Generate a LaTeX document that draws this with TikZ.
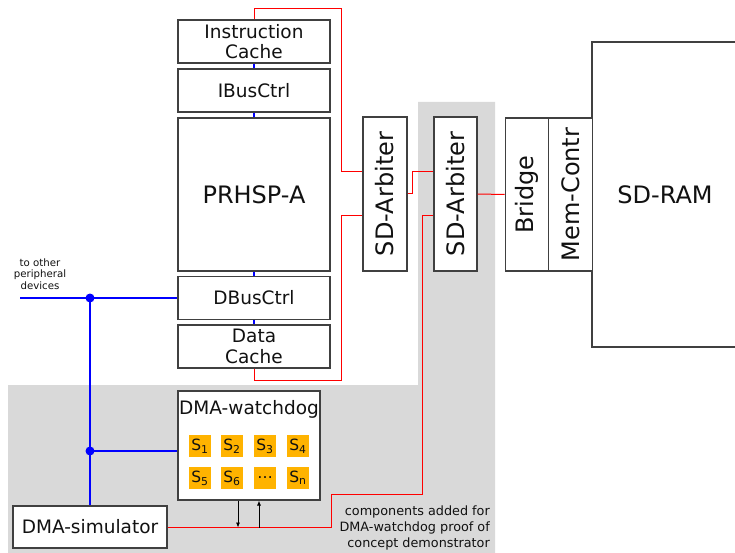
\documentclass[tikz,border=0pt]{standalone}
\usepackage{fontspec}
\usepackage{graphicx}
\setmainfont{DejaVu Sans}
\usetikzlibrary{arrows.meta}
\definecolor{bgray}{HTML}{D9D9D9}
\definecolor{cellor}{HTML}{FFB300}
\definecolor{boxln}{HTML}{404040}
\definecolor{txt}{HTML}{111111}
\tikzset{
  blk/.style={draw=boxln, line width=1.1pt, fill=white, inner sep=0pt, text=txt},
  midtxt/.style={font=\fontsize{18.5}{20.5}\selectfont, align=center},
  bigtxt/.style={font=\fontsize{24}{27}\selectfont, align=center},
  rline/.style={draw=red, line width=1pt},
  bline/.style={draw=blue, line width=1.25pt},
  aline/.style={draw=black, line width=0.8pt},
  cell/.style={fill=cellor, minimum width=22pt, minimum height=22pt, inner sep=0pt, text=txt, font=\fontsize{15.5}{18}\selectfont},
  jdot/.style={circle, fill=blue, inner sep=0pt, minimum size=9pt},
}
\begin{document}
\begin{tikzpicture}[x=1pt,y=-1pt]
\useasboundingbox (0,0) rectangle (735,553);
% gray background
\fill[bgray] (418,102) -- (495,102) -- (495,553) -- (8,553) -- (8,385) -- (418,385) -- cycle;

% CPU column
\node[blk, midtxt, minimum width=152pt, minimum height=43pt] (ic) at (254,41.5) {Instruction\\Cache};
\node[blk, midtxt, minimum width=152pt, minimum height=43pt] (ibus) at (254,90.5) {IBusCtrl};
\node[blk, bigtxt, minimum width=152pt, minimum height=153pt] (cpu) at (254,194.5) {PRHSP-A};
\node[blk, midtxt, minimum width=152pt, minimum height=43pt] (dbus) at (254,298) {DBusCtrl};
\node[blk, midtxt, minimum width=152pt, minimum height=43pt] (dc) at (254,346.5) {Data\\Cache};

% arbiters, bridge, memory
\node[blk, bigtxt, minimum width=44pt, minimum height=154pt] (arb1) at (385,194) {\rotatebox{90}{SD-Arbiter}};
\node[blk, bigtxt, minimum width=43pt, minimum height=154pt] (arb2) at (455.5,194) {\rotatebox{90}{SD-Arbiter}};
\node[blk, bigtxt, minimum width=146pt, minimum height=305pt] (sdram) at (665,194.5) {SD-RAM};
\node[blk, bigtxt, minimum width=43.5pt, minimum height=153pt] (bridge) at (527,194.5) {\rotatebox{90}{Bridge}};
\node[blk, bigtxt, minimum width=43.5pt, minimum height=153pt] (memc) at (570.5,194.5) {\rotatebox{90}{Mem-Contr}};

% DMA watchdog
\node[blk, minimum width=142pt, minimum height=109pt] (wd) at (249,445.5) {};
\node[midtxt, text=txt, inner sep=0pt] (wdt) at (249,409) {DMA-watchdog};
\node[cell] (s1) at (200,446) {S\textsubscript{1}};
\node[cell] (s2) at (232,446) {S\textsubscript{2}};
\node[cell] (s3) at (265,446) {S\textsubscript{3}};
\node[cell] (s4) at (298,446) {S\textsubscript{4}};
\node[cell] (s5) at (200,478) {S\textsubscript{5}};
\node[cell] (s6) at (232,478) {S\textsubscript{6}};
\node[cell] (s7) at (265,478) {…};
\node[cell] (s8) at (298,478) {S\textsubscript{n}};

% DMA simulator
\node[blk, midtxt, minimum width=154pt, minimum height=42pt] (sim) at (90,527) {DMA-simulator};

% texts
\node[font=\fontsize{10.2}{11.3}\selectfont, align=center, text=txt, inner sep=0pt] (ptxt) at (40,274) {to other\\peripheral\\devices};
\node[font=\fontsize{12.8}{16}\selectfont, align=right, text=txt, inner sep=0pt, anchor=east] (cap) at (490,528) {components added for\\DMA-watchdog proof of\\concept demonstrator};

% red connections
\draw[rline] (ic.north) -- ++(0,-11) -| ([xshift=-21pt,yshift=22pt]arb1.west) -- ([yshift=22pt]arb1.west);
\draw[rline] (dc.south) -- ++(0,12) -| ([xshift=-21pt,yshift=-22pt]arb1.west) -- ([yshift=-22pt]arb1.west);
\draw[rline] (arb1.east) -- ++(4.5,0) |- ([yshift=22pt]arb2.west);
\draw[rline] (arb2.east) -- (bridge.west);
\draw[rline] (sim.east) -- ++(164,0) -- ++(0,-33) -| ([xshift=-11pt,yshift=-22pt]arb2.west) -- ([yshift=-22pt]arb2.west);

% blue connections
\draw[bline] (ic.south) -- (ibus.north);
\draw[bline] (ibus.south) -- (cpu.north);
\draw[bline] (cpu.south) -- (dbus.north);
\draw[bline] (dbus.south) -- (dc.north);
\coordinate (periph) at (20,298);
\node[jdot] (j1) at (90,298) {};
\node[jdot] (j2) at (90,451) {};
\draw[bline] (periph) -- (dbus.west);
\draw[bline] (j1.center) -- (sim.north);
\draw[bline] (j2.center) -- (j2 -| wd.west);

% black arrows
\draw[aline, -{Latex[length=5pt,width=4pt]}] ([xshift=-11pt]wd.south) -- ++(0,27);
\draw[aline, {Latex[length=5pt,width=4pt]}-] ([xshift=10pt]wd.south) -- ++(0,27);
\end{tikzpicture}
\end{document}
